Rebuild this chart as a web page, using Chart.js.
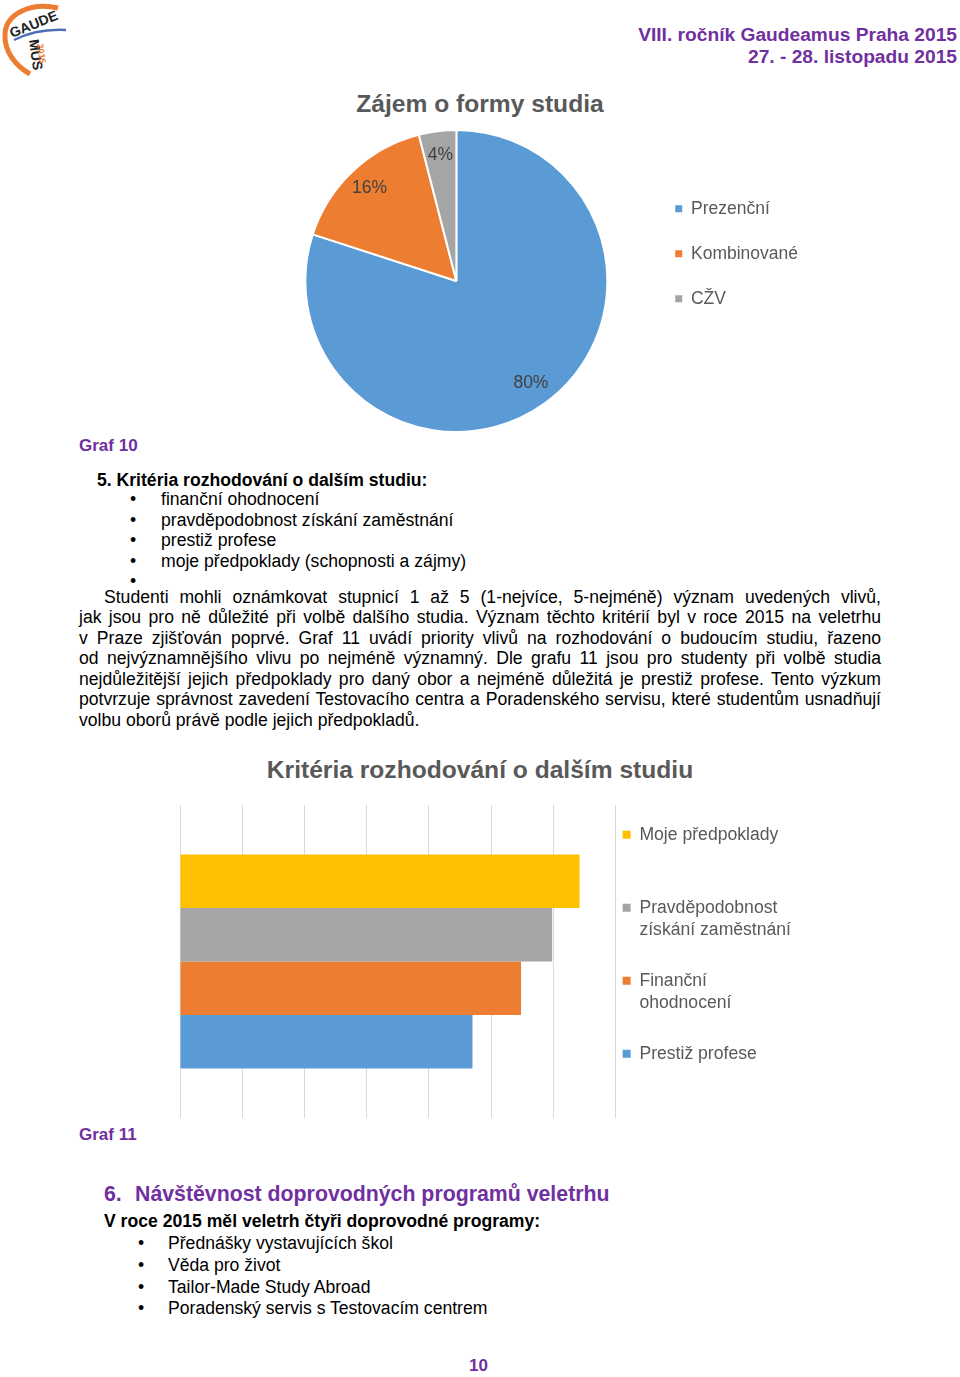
<!DOCTYPE html>
<html lang="cs">
<head>
<meta charset="utf-8">
<title>Gaudeamus Praha 2015 – Graf 10 a 11</title>
<script src="https://cdn.jsdelivr.net/npm/chart.js@4.4.0/dist/chart.umd.min.js"></script>
<style>
  html, body { margin: 0; padding: 0; background: #fff; }
  body { width: 960px; height: 1377px; position: relative; overflow: hidden;
         font-family: "Liberation Sans", Arial, sans-serif; color: #000; }
  .t { position: absolute; white-space: nowrap; font-size: 17.6px; line-height: 20px; }
  .purple { color: #7030A0; font-weight: bold; }
  .b { font-weight: bold; }
  .just { white-space: normal; text-align: justify; text-align-last: justify; word-spacing: -3px; left: 79px; width: 802px; }
  .ctitle { position: absolute; left: 0; width: 960px; text-align: center; color: #595959;
            font-weight: bold; font-size: 24.6px; line-height: 30px; }
  canvas { position: absolute; }
</style>
</head>
<body>

<!-- logo -->
<svg width="72" height="80" viewBox="0 0 72 80" style="position:absolute;left:0;top:0">
  <path d="M58 8 C 30 2, 6 14, 5 34 C 4 52, 16 66, 30 74" fill="none" stroke="#ED7D31" stroke-width="5"/>
  <path d="M14 40 C 30 32, 48 29, 66 30" fill="none" stroke="#4F6FB5" stroke-width="2.5"/>
  <text transform="translate(12,38) rotate(-22)" font-family="Liberation Sans" font-weight="bold" font-size="14" fill="#222">GAUDE</text>
  <text transform="translate(29,40) rotate(82)" font-family="Liberation Sans" font-weight="bold" font-size="14" fill="#222">MUS</text>
  <text transform="translate(37,44) rotate(82)" font-family="Liberation Sans" font-weight="bold" font-size="9" fill="#ED7D31">2015</text>
</svg>

<div class="t purple" style="right:3px;top:24px;font-size:19.2px;line-height:22px;text-align:right">VIII. ročník Gaudeamus Praha 2015</div>
<div class="t purple" style="right:3px;top:46px;font-size:19.2px;line-height:22px;text-align:right">27. - 28. listopadu 2015</div>

<div class="ctitle" style="top:89px">Zájem o formy studia</div>
<canvas id="formsChart" width="543" height="304" style="left:265px;top:129px"></canvas>

<div class="t purple" style="left:79px;top:436px;font-size:17px">Graf 10</div>

<div class="t b" style="left:97px;top:470px">5. Kritéria rozhodování o dalším studiu:</div>
<div class="t" style="left:130px;top:489px">•</div><div class="t" style="left:161px;top:489px">finanční ohodnocení</div>
<div class="t" style="left:130px;top:510px">•</div><div class="t" style="left:161px;top:510px">pravděpodobnost získání zaměstnání</div>
<div class="t" style="left:130px;top:530px">•</div><div class="t" style="left:161px;top:530px">prestiž profese</div>
<div class="t" style="left:130px;top:551px">•</div><div class="t" style="left:161px;top:551px">moje předpoklady (schopnosti a zájmy)</div>
<div class="t" style="left:130px;top:571px">•</div>

<div class="t just" style="top:587px;left:104px;width:777px">Studenti mohli oznámkovat stupnicí 1 až 5 (1-nejvíce, 5-nejméně) význam uvedených vlivů,</div>
<div class="t just" style="top:607px">jak jsou pro ně důležité při volbě dalšího studia. Význam těchto kritérií byl v roce 2015 na veletrhu</div>
<div class="t just" style="top:628px">v Praze zjišťován poprvé. Graf 11 uvádí priority vlivů na rozhodování o budoucím studiu, řazeno</div>
<div class="t just" style="top:648px">od nejvýznamnějšího vlivu po nejméně významný. Dle grafu 11 jsou pro studenty při volbě studia</div>
<div class="t just" style="top:669px">nejdůležitější jejich předpoklady pro daný obor a nejméně důležitá je prestiž profese. Tento výzkum</div>
<div class="t just" style="top:689px">potvrzuje správnost zavedení Testovacího centra a Poradenského servisu, které studentům usnadňují</div>
<div class="t" style="left:79px;top:710px">volbu oborů právě podle jejich předpokladů.</div>

<div class="ctitle" style="top:755px">Kritéria rozhodování o dalším studiu</div>
<canvas id="criteriaChart" width="621" height="313" style="left:180px;top:805px"></canvas>

<div class="t purple" style="left:79px;top:1125px;font-size:17px">Graf 11</div>

<div class="t purple" style="left:104px;top:1182px;font-size:21.3px;line-height:24px">6.</div>
<div class="t purple" style="left:135px;top:1182px;font-size:21.3px;line-height:24px">Návštěvnost doprovodných programů veletrhu</div>
<div class="t b" style="left:104px;top:1211px">V roce 2015 měl veletrh čtyři doprovodné programy:</div>
<div class="t" style="left:138px;top:1233px">•</div><div class="t" style="left:168px;top:1233px">Přednášky vystavujících škol</div>
<div class="t" style="left:138px;top:1255px">•</div><div class="t" style="left:168px;top:1255px">Věda pro život</div>
<div class="t" style="left:138px;top:1277px">•</div><div class="t" style="left:168px;top:1277px">Tailor-Made Study Abroad</div>
<div class="t" style="left:138px;top:1298px">•</div><div class="t" style="left:168px;top:1298px">Poradenský servis s Testovacím centrem</div>

<div class="t purple" style="left:469px;top:1356px;font-size:17px">10</div>

<script>
// Graf 10 – zájem o formy studia (%)
const formLabels = ['Prezenční', 'Kombinované', 'CŽV'];
const formShares = [80, 16, 4];
const formColors = ['#5B9BD5', '#ED7D31', '#A5A5A5'];

// Graf 11 – kritéria (shora dolů)
const criteriaNames = ['Moje předpoklady', 'Pravděpodobnost získání zaměstnání', 'Finanční ohodnocení', 'Prestiž profese'];
const criteriaLegendLines = [['Moje předpoklady'], ['Pravděpodobnost', 'získání zaměstnání'], ['Finanční', 'ohodnocení'], ['Prestiž profese']];
const criteriaScores = [3.21, 2.99, 2.74, 2.35];
const criteriaColors = ['#FFC000', '#A5A5A5', '#ED7D31', '#5B9BD5'];
const scoreMax = 3.5;
const scoreStep = 0.5;

const FONT = '"Liberation Sans", Arial, sans-serif';
const GREY = '#595959';

// percent labels inside the pie slices
const pieLabels = {
  id: 'pieLabels',
  afterDatasetsDraw(chart) {
    const ctx = chart.ctx;
    const values = chart.data.datasets[0].data;
    const total = values.reduce((a, b) => a + b, 0);
    ctx.save();
    ctx.font = '17.5px ' + FONT;
    ctx.fillStyle = '#404040';
    ctx.textAlign = 'center';
    ctx.textBaseline = 'middle';
    chart.getDatasetMeta(0).data.forEach((arc, i) => {
      const p = arc.getProps(['x', 'y', 'startAngle', 'endAngle', 'outerRadius'], true);
      const mid = (p.startAngle + p.endAngle) / 2;
      const r = p.outerRadius * 0.84;
      ctx.fillText(Math.round(values[i] / total * 100) + '%', p.x + Math.cos(mid) * r, p.y + Math.sin(mid) * r);
    });
    ctx.restore();
  }
};

new Chart(document.getElementById('formsChart'), {
  type: 'pie',
  data: {
    labels: formLabels,
    datasets: [{ data: formShares, backgroundColor: formColors, borderColor: '#fff', borderWidth: 2 }]
  },
  options: {
    responsive: false,
    animation: false,
    devicePixelRatio: 1,
    plugins: {
      legend: {
        position: 'right',
        align: 'start',
        title: { display: true, text: ' ', font: { size: 12, lineHeight: '14px' }, padding: { top: 0, bottom: 29.5 } },
        labels: {
          boxWidth: 7, boxHeight: 7, padding: 27.5, color: GREY,
          font: { family: FONT, size: 17.5 },
          generateLabels: () => formLabels.map((label, i) => ({
            text: label, fillStyle: formColors[i], strokeStyle: formColors[i],
            lineWidth: 0, fontColor: GREY, index: i, hidden: false
          }))
        }
      },
      tooltip: { enabled: false }
    }
  },
  plugins: [pieLabels]
});

new Chart(document.getElementById('criteriaChart'), {
  type: 'bar',
  data: {
    labels: ['Kritéria'],
    datasets: criteriaNames.map((name, i) => ({
      label: name,
      data: [criteriaScores[i]],
      backgroundColor: criteriaColors[i],
      borderWidth: 0,
      categoryPercentage: 0.683,
      barPercentage: 1
    }))
  },
  options: {
    indexAxis: 'y',
    responsive: false,
    animation: false,
    devicePixelRatio: 1,
    scales: {
      x: {
        min: 0, max: scoreMax,
        ticks: { stepSize: scoreStep, display: false },
        grid: { color: '#D9D9D9', drawTicks: false },
        border: { display: false }
      },
      y: { display: false }
    },
    plugins: {
      legend: {
        position: 'right',
        align: 'end',
        labels: {
          boxWidth: 8, boxHeight: 8, padding: 7, color: GREY,
          font: { family: FONT, size: 17.6, lineHeight: '22px' },
          generateLabels: () => criteriaLegendLines.map((lines, i) => ({
            text: lines.concat(Array(3 - lines.length).fill('')),
            fillStyle: criteriaColors[i], strokeStyle: criteriaColors[i],
            lineWidth: 0, fontColor: GREY, datasetIndex: i, hidden: false
          }))
        }
      },
      tooltip: { enabled: false }
    }
  }
});
</script>
</body>
</html>
